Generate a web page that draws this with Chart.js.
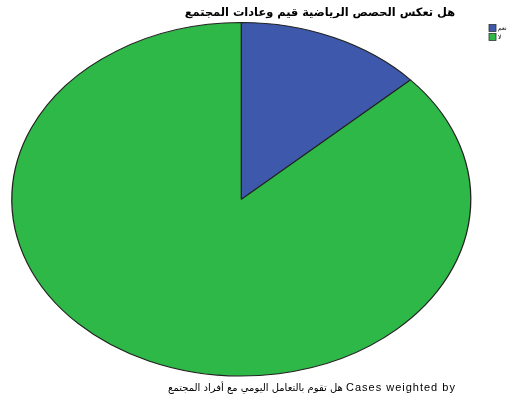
<!DOCTYPE html>
<html lang="ar">
<head>
<meta charset="UTF-8">
<title>هل تعكس الحصص الرياضية قيم وعادات المجتمع</title>
<script src="https://cdn.jsdelivr.net/npm/chart.js"></script>
<style>
  html, body { margin: 0; padding: 0; background: #fff; }
  #wrap { position: relative; width: 513px; height: 401px; }
  #pie { display: block; }
  .cap {
    position: absolute; width: 400px; text-align: center; white-space: nowrap;
    color: #000; direction: rtl;
  }
  #title { left: 120px; top: 5px; font: bold 11.4px/14px 'DejaVu Sans', Arial, sans-serif; }
  #note { left: 112px; top: 380px; font: 10px/14px 'DejaVu Sans', sans-serif; }
  #note .en { font: 11px/14px 'Liberation Sans', Arial, sans-serif; letter-spacing: 1px; }
</style>
</head>
<body>
<div id="wrap">
  <canvas id="pie" width="513" height="401"></canvas>
  <div class="cap" id="title"></div>
  <div class="cap" id="note"><span class="en">Cases weighted by</span> <span class="ar"></span></div>
</div>
<script>
// answers and their weighted share (%)
const answers = ["نعم", "لا"];
const shares = [13.2, 86.8];
const sliceColors = ["#3E58AC", "#2EB848"];

const chartTitle = "هل تعكس الحصص الرياضية قيم وعادات المجتمع";
const weightVar = "هل تقوم بالتعامل اليومي مع أفراد المجتمع";

document.getElementById("title").textContent = chartTitle;
document.querySelector("#note .ar").textContent = weightVar;

// the pie is drawn wider than tall
const stretchX = 229.5 / 176.7;

const ovalPie = {
  id: "ovalPie",
  beforeDatasetsDraw(chart) {
    const ctx = chart.ctx;
    const arc = chart.getDatasetMeta(0).data[0];
    ctx.save();
    ctx.translate(arc.x, arc.y);
    ctx.scale(stretchX, 1);
    ctx.translate(-arc.x, -arc.y);
  },
  afterDatasetsDraw(chart) {
    chart.ctx.restore();
  }
};

// small legend box in the top right corner
const cornerLegend = {
  id: "cornerLegend",
  afterDraw(chart) {
    const ctx = chart.ctx;
    ctx.save();
    ctx.textBaseline = "middle";
    ctx.textAlign = "left";
    ctx.font = "6px 'DejaVu Sans', sans-serif";
    chart.data.labels.forEach((lbl, i) => {
      const y = 24.5 + i * 9;
      ctx.fillStyle = chart.data.datasets[0].backgroundColor[i];
      ctx.fillRect(489, y, 7, 7);
      ctx.strokeStyle = "#333";
      ctx.lineWidth = 0.8;
      ctx.strokeRect(489, y, 7, 7);
      ctx.fillStyle = "#000";
      ctx.fillText(lbl, 498, y + 3.5);
    });
    ctx.restore();
  }
};

new Chart(document.getElementById("pie"), {
  type: "pie",
  data: {
    labels: answers,
    datasets: [{
      data: shares,
      backgroundColor: sliceColors,
      borderColor: "#222",
      borderWidth: 1,
      hoverOffset: 0
    }]
  },
  options: {
    responsive: false,
    animation: false,
    layout: { padding: { top: 22.1, bottom: 24.5, left: 11.8, right: 42.2 } },
    plugins: {
      legend: { display: false },
      tooltip: { enabled: false },
      title: { display: false }
    }
  },
  plugins: [ovalPie, cornerLegend]
});
</script>
</body>
</html>
